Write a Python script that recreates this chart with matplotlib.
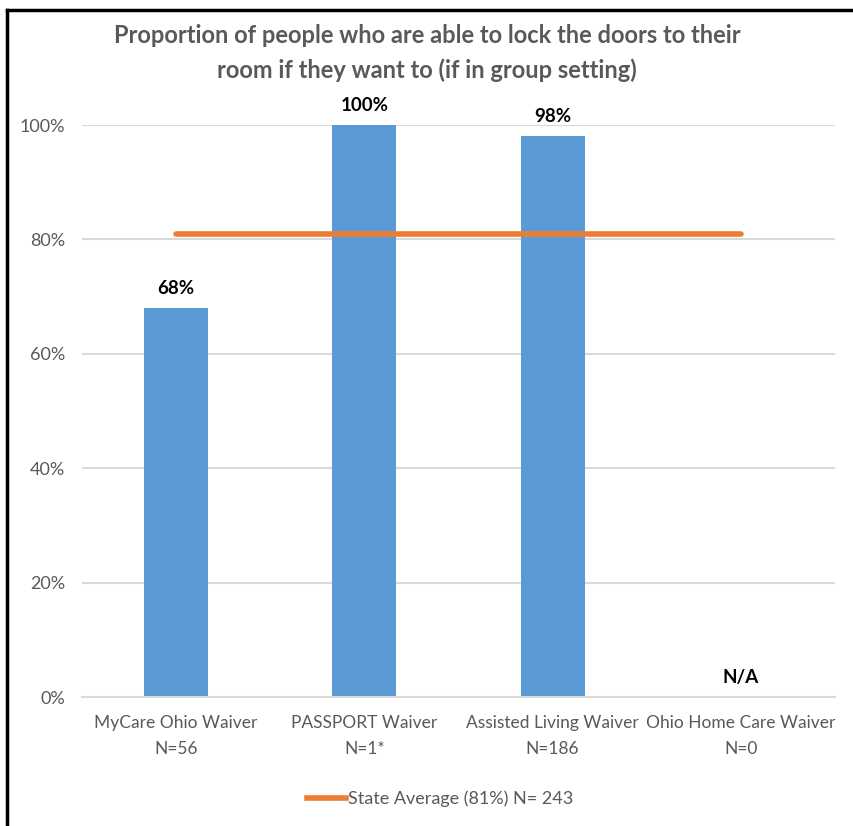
import matplotlib as mpl
mpl.use('Agg')
import matplotlib.pyplot as plt
from matplotlib.lines import Line2D

plt.rcParams['font.family'] = ['Lato', 'DejaVu Sans']

# chart data
categories = ['MyCare Ohio Waiver\nN=56', 'PASSPORT Waiver\nN=1*',
              'Assisted Living Waiver\nN=186', 'Ohio Home Care Waiver\nN=0']
values = [68, 100, 98, 0]
labels = ['68%', '100%', '98%', 'N/A']
state_avg = 81
legend_label = 'State Average (81%) N= 243'
title = 'Proportion of people who are able to lock the doors to their\nroom if they want to (if in group setting)'

fig = plt.figure(figsize=(8.54, 8.26), dpi=100)
ax = fig.add_axes([82 / 854, 1 - 697 / 826, 753 / 854, 572 / 826])

x = range(len(categories))
ax.bar(x, values, width=0.34, color='#5b9bd5', zorder=2)
ax.plot([0, len(categories) - 1], [state_avg, state_avg], color='#ed7d31',
        lw=4, solid_capstyle='round', zorder=3)

for i, (v, lab) in enumerate(zip(values, labels)):
    ax.text(i, v + 2.0, lab, ha='center', va='bottom', fontsize=13.5,
            fontweight='bold', color='black')

ax.set_xlim(-0.5, len(categories) - 0.5)
ax.set_ylim(0, 100)
ax.set_yticks(range(0, 101, 20))
ax.set_yticklabels(['{}%'.format(t) for t in range(0, 101, 20)])
ax.set_xticks(list(x))
ax.set_xticklabels(categories, linespacing=1.75)
ax.tick_params(axis='y', length=0, labelsize=13, colors='#595959', pad=12)
ax.tick_params(axis='x', length=0, labelsize=12.5, colors='#595959', pad=13)
ax.grid(axis='y', color='#d9d9d9', lw=1.5, zorder=0)
for s in ['top', 'right', 'left']:
    ax.spines[s].set_visible(False)
ax.spines['bottom'].set_color('#d9d9d9')
ax.spines['bottom'].set_linewidth(1.5)

fig.text(0.5, 1 - 53 / 826, title, ha='center', va='center', fontsize=17,
         fontweight='bold', color='#595959', linespacing=1.55)

handle = Line2D([], [], color='#ed7d31', lw=4)
fig.legend([handle], [legend_label], loc='center', bbox_to_anchor=(440 / 854, 1 - 799 / 826),
           frameon=False, fontsize=13, handlelength=2.2, handletextpad=0.1,
           labelcolor='#595959')

# outer frame lines (left and top)
fig.add_artist(Line2D([7 / 854, 7 / 854], [0, 1 - 10 / 826], color='black', lw=2.5,
                      transform=fig.transFigure))
fig.add_artist(Line2D([7 / 854, 1], [1 - 10 / 826, 1 - 10 / 826], color='black', lw=2.5,
                      transform=fig.transFigure))

fig.savefig('out.png', dpi=100)
